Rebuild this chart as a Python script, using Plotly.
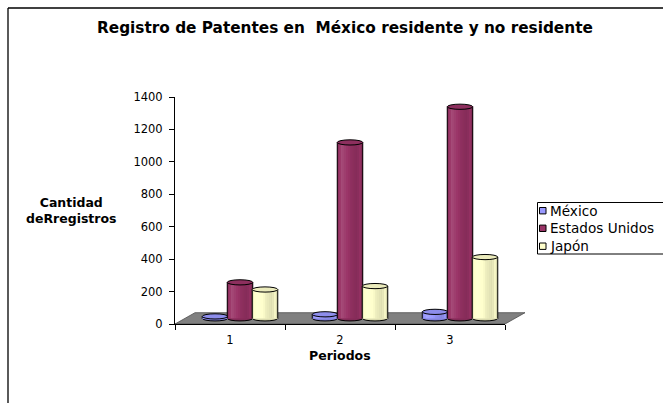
import plotly.graph_objects as go

# ---- data -------------------------------------------------------------
periodos = [1, 2, 3]
series_names = ["México", "Estados Unidos", "Japón"]
mexico = [12, 25, 40]
estados_unidos = [222, 1085, 1305]
japon = [178, 199, 378]
series_values = [mexico, estados_unidos, japon]
series_colors = ["#9999FF", "#993366", "#FFFFCC"]
y_tick_values = [0, 200, 400, 600, 800, 1000, 1200, 1400]

title_text = "Registro de Patentes en  México residente y no residente"
y_title = "Cantidad<br>deRregistros"
x_title = "Periodos"

# ---- layout geometry (pixels) -----------------------------------------
W, H = 663, 403
ML, MR, MT, MB = 175, 158, 97, 79
PW, PH = W - ML - MR, H - MT - MB
X_RANGE = [0.5, 3.5]
Y_RANGE = [0, 1400]
UX = PW / (X_RANGE[1] - X_RANGE[0])   # px per category unit
UY = PH / (Y_RANGE[1] - Y_RANGE[0])   # px per value unit

# a wide sans face, close to the stretched lettering of the chart
FONT = "DejaVu Sans, Verdana, sans-serif"


def px(xp):
    return (xp - ML) / PW


def py(yp):
    return (H - MB - yp) / PH


# oblique depth of the floor, bars stand in its middle
DEPTH_DX, DEPTH_DY = 20.0, 11.3
mid_dx = DEPTH_DX / 2 / UX
mid_dy = DEPTH_DY / 2 / UY
bar_w = 25.5 / UX
slot = 25.0 / UX
ell_ry = 2.6 / UY


def hex_rgb(h):
    h = h.lstrip("#")
    return tuple(int(h[i:i + 2], 16) for i in (0, 2, 4))


def shade(h, f):
    r, g, b = hex_rgb(h)
    if f >= 1:
        t = f - 1
        c = [v + (255 - v) * t for v in (r, g, b)]
    else:
        c = [v * f for v in (r, g, b)]
    return "rgb(%d,%d,%d)" % tuple(max(0, min(255, round(v))) for v in c)


# shading profile across a cylinder, left -> right
PROFILE = [(0.0, 0.88), (0.18, 1.12), (0.35, 1.04), (0.55, 0.93),
           (0.78, 0.86), (0.9, 0.97), (1.0, 0.78)]


def profile(t):
    for (a, fa), (b, fb) in zip(PROFILE[:-1], PROFILE[1:]):
        if a <= t <= b:
            return fa + (fb - fa) * (t - a) / (b - a)
    return PROFILE[-1][1]


fig = go.Figure()
shapes = []

# floor of the 3-D box
dxd, dyd = DEPTH_DX / PW, DEPTH_DY / PH
shapes.append(dict(
    type="path", xref="x domain", yref="y domain", layer="below",
    path="M 0,0 L 1,0 L %f,%f L %f,%f Z" % (1 + dxd, dyd, dxd, dyd),
    fillcolor="#808080", line=dict(color="#4d4d4d", width=0.8)))

N_STRIPS = 14
for i, (name, vals, col) in enumerate(zip(series_names, series_values, series_colors)):
    xs = [p + mid_dx + (i - 1) * slot for p in periodos]
    fig.add_trace(go.Bar(
        x=xs, y=vals, base=mid_dy, width=bar_w, name=name,
        marker=dict(color=col, line=dict(width=0)),
        showlegend=False, hoverinfo="skip"))
    for xc, v in zip(xs, vals):
        x0, x1 = xc - bar_w / 2, xc + bar_w / 2
        top = mid_dy + v
        # bottom rim
        shapes.append(dict(type="circle", xref="x", yref="y", layer="below",
                           x0=x0, x1=x1, y0=mid_dy - ell_ry, y1=mid_dy + ell_ry,
                           fillcolor=shade(col, 0.85),
                           line=dict(color="black", width=1)))
        # shaded body
        for k in range(N_STRIPS):
            t = (k + 0.5) / N_STRIPS
            shapes.append(dict(type="rect", xref="x", yref="y", layer="above",
                               x0=x0 + k * bar_w / N_STRIPS,
                               x1=x0 + (k + 1) * bar_w / N_STRIPS + 0.002,
                               y0=mid_dy, y1=top,
                               fillcolor=shade(col, profile(t)),
                               line=dict(width=0)))
        for xe in (x0, x1):
            shapes.append(dict(type="line", xref="x", yref="y", layer="above",
                               x0=xe, x1=xe, y0=mid_dy, y1=top,
                               line=dict(color="black", width=1)))
        # top cap
        shapes.append(dict(type="circle", xref="x", yref="y", layer="above",
                           x0=x0, x1=x1, y0=top - ell_ry, y1=top + ell_ry,
                           fillcolor=shade(col, 0.92),
                           line=dict(color="black", width=1)))

# chart frame (left and top edges)
shapes.append(dict(type="line", xref="paper", yref="paper",
                   x0=px(8), x1=px(8), y0=py(8), y1=py(H + 5),
                   line=dict(color="black", width=1.3)))
shapes.append(dict(type="line", xref="paper", yref="paper",
                   x0=px(8), x1=px(W + 5), y0=py(8), y1=py(8),
                   line=dict(color="black", width=1.3)))

# legend box
annotations = []
shapes.append(dict(type="rect", xref="paper", yref="paper",
                   x0=px(537.5), x1=px(W + 10), y0=py(202.5), y1=py(254),
                   fillcolor="white", line=dict(color="black", width=1)))
leg_y = [210.7, 228.3, 246.2]
for name, col, yy in zip(series_names, series_colors, leg_y):
    shapes.append(dict(type="rect", xref="paper", yref="paper",
                       x0=px(539.5), x1=px(546), y0=py(yy - 3.2), y1=py(yy + 3.2),
                       fillcolor=col, line=dict(color="black", width=1)))
    annotations.append(dict(x=px(547.5), y=py(yy), xref="paper", yref="paper",
                            text=name, showarrow=False, xanchor="left",
                            yanchor="middle",
                            font=dict(family=FONT, size=13.6, color="black")))

annotations += [
    dict(x=px(345), y=py(28), xref="paper", yref="paper", text="<b>%s</b>" % title_text,
         showarrow=False, xanchor="center", yanchor="middle",
         font=dict(family=FONT, size=15.3, color="black")),
    dict(x=px(71), y=py(210.5), xref="paper", yref="paper", text="<b>%s</b>" % y_title,
         showarrow=False, xanchor="center", yanchor="middle",
         font=dict(family=FONT, size=12.5, color="black")),
    dict(x=px(340), y=py(355), xref="paper", yref="paper", text="<b>%s</b>" % x_title,
         showarrow=False, xanchor="center", yanchor="middle",
         font=dict(family=FONT, size=12.5, color="black")),
]

fig.update_layout(
    width=W, height=H, autosize=False,
    margin=dict(l=ML, r=MR, t=MT, b=MB, pad=0),
    paper_bgcolor="white", plot_bgcolor="rgba(0,0,0,0)",
    barmode="overlay", showlegend=False,
    shapes=shapes, annotations=annotations,
    font=dict(family=FONT, size=11.5, color="black"),
    xaxis=dict(range=X_RANGE, tickmode="array", tickvals=periodos,
               ticktext=[str(p) for p in periodos],
               ticks="outside", ticklen=0, showgrid=False, zeroline=False,
               showline=True, linecolor="black", linewidth=1,
               ticklabelstandoff=5,
               minor=dict(tickmode="array", tickvals=[0.5, 1.5, 2.5, 3.5],
                          ticks="outside", ticklen=5, tickcolor="black",
                          showgrid=False),
               tickfont=dict(family=FONT, size=11.5, color="black"),
               fixedrange=True),
    yaxis=dict(range=Y_RANGE, tickmode="array", tickvals=y_tick_values,
               ticks="outside", ticklen=5, tickcolor="black",
               showgrid=False, zeroline=False,
               showline=True, linecolor="black", linewidth=1,
               ticklabelstandoff=4,
               tickfont=dict(family=FONT, size=11.5, color="black"),
               fixedrange=True),
)

fig.write_html("out.html", include_plotlyjs=True, config={"displayModeBar": False})
